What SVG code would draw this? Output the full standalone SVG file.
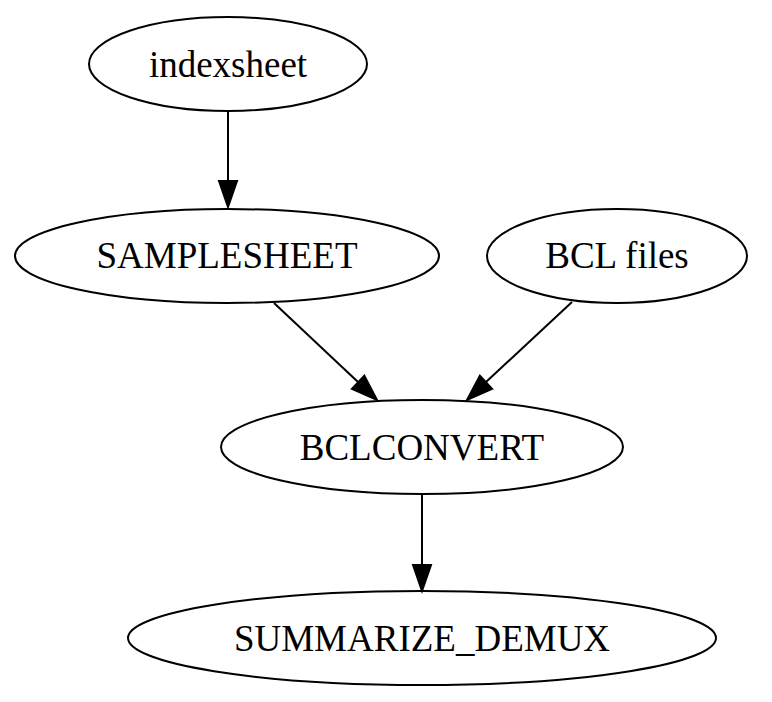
<svg xmlns="http://www.w3.org/2000/svg" width="772" height="702" viewBox="0 0 772 702">
<style>
.node ellipse{fill:none;stroke:#000;stroke-width:2}
.node text{font-family:"Liberation Serif","Times New Roman",serif;font-size:37px;fill:#000;text-anchor:middle}
.edge line{stroke:#000;stroke-width:2}
.edge polygon{fill:#000;stroke:#000;stroke-width:2}
</style>
<rect width="772" height="702" fill="#fff"/>
<g id="connectors">
<g class="edge" id="e1"><line x1="228" y1="111" x2="228" y2="181"/><polygon points="219,181 228,207 237,181"/></g>
<g class="edge" id="e2"><line x1="274" y1="303" x2="358" y2="382"/><polygon points="351.9,388.8 377,400 364.3,375.6"/></g>
<g class="edge" id="e3"><line x1="572" y1="302" x2="486" y2="382"/><polygon points="492.1,388.9 467,400 479.9,375.7"/></g>
<g class="edge" id="e4"><line x1="422" y1="494" x2="422" y2="565"/><polygon points="413,565 422,591 431,565"/></g>
</g>
<g class="node" id="indexsheet"><ellipse cx="228" cy="64" rx="139" ry="47"/><text x="228" y="77">indexsheet</text></g>
<g class="node" id="SAMPLESHEET"><ellipse cx="227" cy="256" rx="212" ry="47"/><text x="227" y="268">SAMPLESHEET</text></g>
<g class="node" id="BCLfiles"><ellipse cx="617" cy="256" rx="130" ry="47"/><text x="617" y="268">BCL files</text></g>
<g class="node" id="BCLCONVERT"><ellipse cx="422" cy="447" rx="201" ry="47"/><text x="422" y="460">BCLCONVERT</text></g>
<g class="node" id="SUMMARIZE_DEMUX"><ellipse cx="422" cy="638" rx="294" ry="47"/><text x="422" y="651">SUMMARIZE_DEMUX</text></g>
</svg>
